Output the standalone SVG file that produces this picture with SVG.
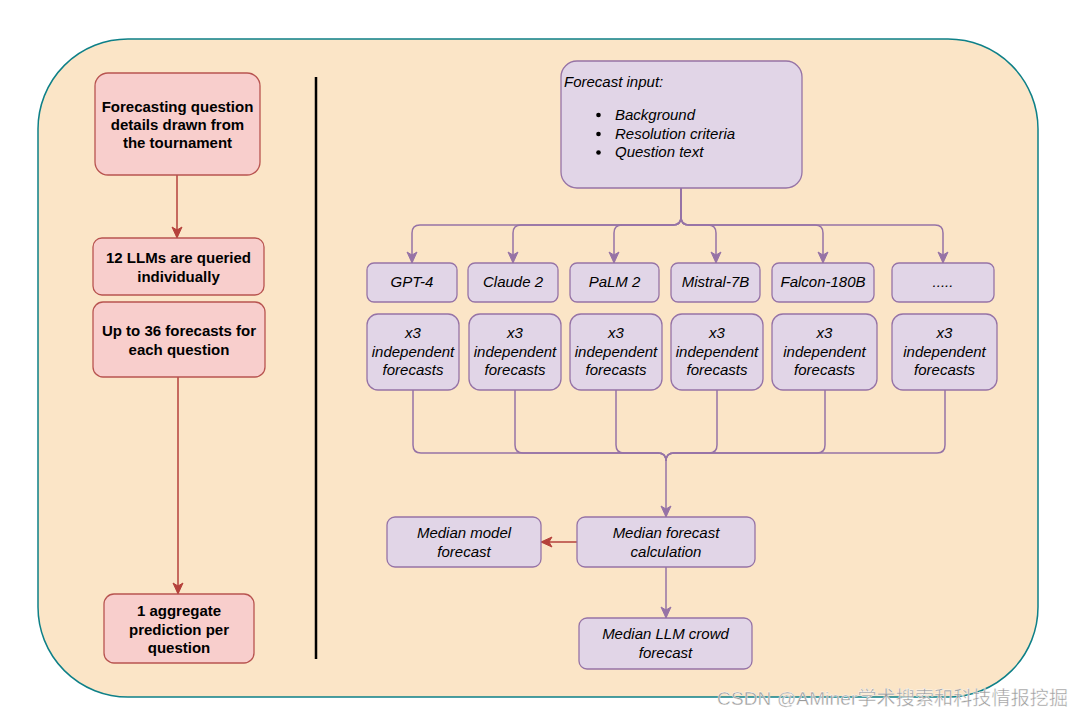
<svg xmlns="http://www.w3.org/2000/svg" width="1083" height="717" viewBox="0 0 1083 717">
<defs>
<style>
.red{fill:#f8cecc;stroke:#b85450;stroke-width:1.3}
.pur{fill:#e1d5e7;stroke:#9673a6;stroke-width:1.3}
.bt{font-family:"Liberation Sans",Arial,sans-serif;font-size:15px;font-weight:bold;fill:#000;text-anchor:middle}
.it{font-family:"Liberation Sans",Arial,sans-serif;font-size:15px;font-style:italic;fill:#000;text-anchor:middle}
.itl{font-family:"Liberation Sans",Arial,sans-serif;font-size:15px;font-style:italic;fill:#000}
.pc{fill:none;stroke:#9673a6;stroke-width:1.5}
.rc{fill:none;stroke:#b5413b;stroke-width:1.5}
</style>
<marker id="ap" markerUnits="userSpaceOnUse" markerWidth="14" markerHeight="14" viewBox="-1 -6 14 12" refX="11" refY="0" orient="auto">
<path d="M0,-5 L11,0 L0,5 L3,0 z" fill="#9673a6" stroke="#9673a6" stroke-width="1"/>
</marker>
<marker id="ar" markerUnits="userSpaceOnUse" markerWidth="14" markerHeight="14" viewBox="-1 -6 14 12" refX="11" refY="0" orient="auto">
<path d="M0,-5 L11,0 L0,5 L3,0 z" fill="#b5413b" stroke="#b5413b" stroke-width="1"/>
</marker>
</defs>

<rect id="container" x="38" y="39" width="1000" height="658" rx="90" ry="90" fill="#fbe5c7" stroke="#0e8088" stroke-width="1.5"/>
<line id="divider" x1="316" y1="77" x2="316" y2="659" stroke="#000" stroke-width="2.5"/>

<g id="connectors">
<path class="rc" d="M177,175 V238" marker-end="url(#ar)"/>
<path class="rc" d="M178,377 V594" marker-end="url(#ar)"/>
<path class="rc" d="M577,542 H541" marker-end="url(#ar)"/>

<path class="pc" d="M681,188 V217 Q681,225 673,225 H420 Q412,225 412,233 V263" marker-end="url(#ap)"/>
<path class="pc" d="M681,188 V217 Q681,225 673,225 H521 Q513,225 513,233 V263" marker-end="url(#ap)"/>
<path class="pc" d="M681,188 V217 Q681,225 673,225 H622 Q614,225 614,233 V263" marker-end="url(#ap)"/>
<path class="pc" d="M681,188 V217 Q681,225 689,225 H708 Q716,225 716,233 V263" marker-end="url(#ap)"/>
<path class="pc" d="M681,188 V217 Q681,225 689,225 H815 Q823,225 823,233 V263" marker-end="url(#ap)"/>
<path class="pc" d="M681,188 V217 Q681,225 689,225 H935 Q943,225 943,233 V263" marker-end="url(#ap)"/>

<path class="pc" d="M413,390 V445 Q413,453 421,453 H658 Q666,453 666,461"/>
<path class="pc" d="M515,390 V445 Q515,453 523,453 H658 Q666,453 666,461"/>
<path class="pc" d="M616,390 V445 Q616,453 624,453 H658 Q666,453 666,461"/>
<path class="pc" d="M717,390 V445 Q717,453 709,453 H674 Q666,453 666,461"/>
<path class="pc" d="M825,390 V445 Q825,453 817,453 H674 Q666,453 666,461"/>
<path class="pc" d="M945,390 V445 Q945,453 937,453 H674 Q666,453 666,461"/>
<path class="pc" d="M666,461 V517" stroke-width="2" marker-end="url(#ap)"/>

<path class="pc" d="M666,567 V618" marker-end="url(#ap)"/>
</g>

<g id="n-question">
<rect class="red" x="95" y="73" width="165" height="102" rx="13"/>
<text class="bt" x="177.5" y="111.5">Forecasting question</text>
<text class="bt" x="177.5" y="129.5">details drawn from</text>
<text class="bt" x="177.5" y="148">the tournament</text>
</g>
<g id="n-queried">
<rect class="red" x="93" y="238" width="171" height="57" rx="9"/>
<text class="bt" x="178.5" y="263">12 LLMs are queried</text>
<text class="bt" x="178.5" y="281.5">individually</text>
</g>
<g id="n-36">
<rect class="red" x="93" y="302" width="172" height="75" rx="10"/>
<text class="bt" x="179" y="336">Up to 36 forecasts for</text>
<text class="bt" x="179" y="354.5">each question</text>
</g>
<g id="n-aggregate">
<rect class="red" x="104" y="594" width="150" height="69" rx="10"/>
<text class="bt" x="179" y="616">1 aggregate</text>
<text class="bt" x="179" y="634.5">prediction per</text>
<text class="bt" x="179" y="653">question</text>
</g>

<g id="n-input">
<rect class="pur" x="561" y="61" width="241" height="127" rx="16"/>
<text class="itl" x="564" y="87">Forecast input:</text>
<circle cx="598.5" cy="115" r="2.3" fill="#000"/>
<circle cx="598.5" cy="134" r="2.3" fill="#000"/>
<circle cx="598.5" cy="152.5" r="2.3" fill="#000"/>
<text class="itl" x="615" y="119.5">Background</text>
<text class="itl" x="615" y="138.5">Resolution criteria</text>
<text class="itl" x="615" y="157">Question text</text>
</g>

<g id="n-gpt4"><rect class="pur" x="367" y="263" width="90" height="39" rx="7"/><text class="it" x="412" y="287">GPT-4</text></g>
<g id="n-claude"><rect class="pur" x="468" y="263" width="90" height="39" rx="7"/><text class="it" x="513" y="287">Claude 2</text></g>
<g id="n-palm"><rect class="pur" x="570" y="263" width="89" height="39" rx="7"/><text class="it" x="614.5" y="287">PaLM 2</text></g>
<g id="n-mistral"><rect class="pur" x="671" y="263" width="89" height="39" rx="7"/><text class="it" x="715.5" y="287">Mistral-7B</text></g>
<g id="n-falcon"><rect class="pur" x="772" y="263" width="102" height="39" rx="7"/><text class="it" x="823" y="287">Falcon-180B</text></g>
<g id="n-more"><rect class="pur" x="892" y="263" width="102" height="39" rx="7"/><text class="it" x="943" y="287">.....</text></g>

<g id="n-x3-1"><rect class="pur" x="367" y="314" width="92" height="76" rx="11"/><text class="it" x="413" y="338">x3</text><text class="it" x="413" y="356.5">independent</text><text class="it" x="413" y="375">forecasts</text></g>
<g id="n-x3-2"><rect class="pur" x="469" y="314" width="92" height="76" rx="11"/><text class="it" x="515" y="338">x3</text><text class="it" x="515" y="356.5">independent</text><text class="it" x="515" y="375">forecasts</text></g>
<g id="n-x3-3"><rect class="pur" x="570" y="314" width="92" height="76" rx="11"/><text class="it" x="616" y="338">x3</text><text class="it" x="616" y="356.5">independent</text><text class="it" x="616" y="375">forecasts</text></g>
<g id="n-x3-4"><rect class="pur" x="671" y="314" width="92" height="76" rx="11"/><text class="it" x="717" y="338">x3</text><text class="it" x="717" y="356.5">independent</text><text class="it" x="717" y="375">forecasts</text></g>
<g id="n-x3-5"><rect class="pur" x="772" y="314" width="105" height="76" rx="11"/><text class="it" x="824.5" y="338">x3</text><text class="it" x="824.5" y="356.5">independent</text><text class="it" x="824.5" y="375">forecasts</text></g>
<g id="n-x3-6"><rect class="pur" x="892" y="314" width="105" height="76" rx="11"/><text class="it" x="944.5" y="338">x3</text><text class="it" x="944.5" y="356.5">independent</text><text class="it" x="944.5" y="375">forecasts</text></g>

<g id="n-median-model"><rect class="pur" x="387" y="517" width="154" height="50" rx="8"/><text class="it" x="464" y="537.5">Median model</text><text class="it" x="464" y="556.5">forecast</text></g>
<g id="n-median-calc"><rect class="pur" x="577" y="517" width="178" height="50" rx="8"/><text class="it" x="666" y="537.5">Median forecast</text><text class="it" x="666" y="556.5">calculation</text></g>
<g id="n-median-crowd"><rect class="pur" x="579" y="618" width="173" height="51" rx="8"/><text class="it" x="665.5" y="639">Median LLM crowd</text><text class="it" x="665.5" y="657.5">forecast</text></g>

<text id="watermark" x="717" y="705" font-family="'Liberation Sans','Noto Sans CJK SC',sans-serif" font-size="19" fill="#9a9a9a" stroke="#ffffff" stroke-width="0.4" textLength="351">CSDN @AMiner学术搜索和科技情报挖掘</text>
</svg>
